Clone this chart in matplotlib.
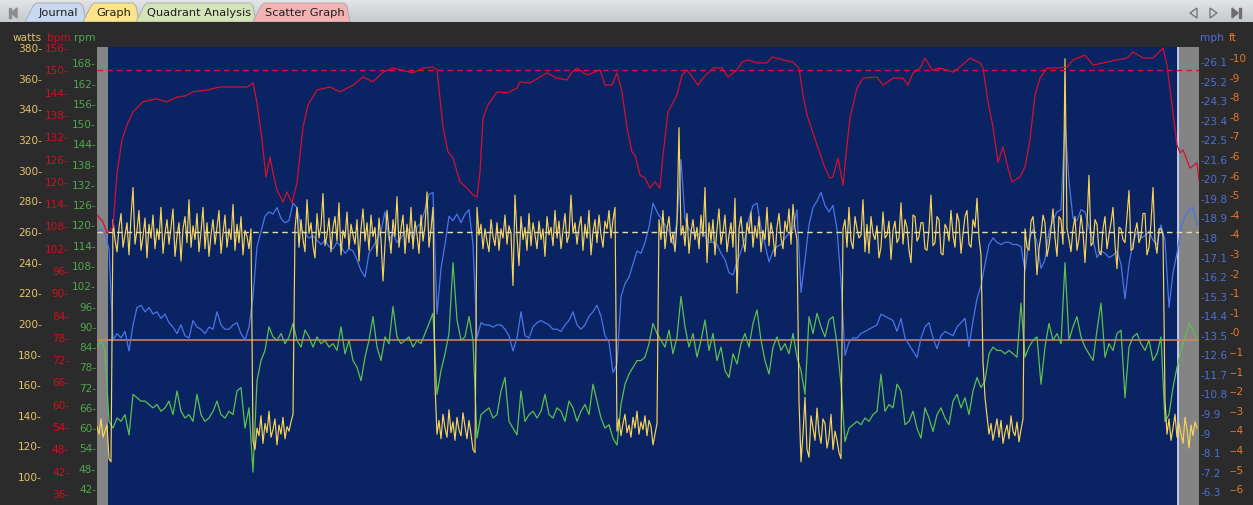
import numpy as np
import matplotlib
matplotlib.use("Agg")
from matplotlib import pyplot
from matplotlib.patches import Polygon
from matplotlib.colors import LinearSegmentedColormap

pyplot.rcParams["font.family"] = "DejaVu Sans"

# power is logged every 2 s, cadence and speed every 4 s
POWER_STEP = 2
SAMPLE_STEP = 4

power_w = [
    133, 128, 138, 126, 130, 134, 112, 110,
    268, 255, 247, 263, 272, 250, 258, 266, 245, 270,
    289, 252, 261, 274, 248, 257, 269, 243, 265, 256,
    271, 249, 262, 255, 276, 246, 259, 268, 252, 263,
    275, 244, 257, 266, 241, 262, 270, 253, 281, 250,
    264, 255, 272, 247, 260, 276, 249, 266, 244, 258,
    268, 252, 263, 274, 246, 259, 271, 250, 262, 255,
    278, 248, 265, 253, 270, 245, 261, 257, 249, 262,
    124, 118, 132, 127, 140, 122, 135, 129, 143, 126, 131, 138, 121, 134, 128, 139, 125, 133,
    130, 136, 141,
    262, 276, 250, 268, 255, 247, 281, 259, 266, 251,
    243, 272, 256, 264, 285, 251, 258, 269, 247, 263,
    270, 254, 279, 245, 261, 256, 273, 249, 265, 258,
    252, 268, 241, 262, 275, 254, 266, 248, 271, 257,
    263, 244, 269, 255, 228, 252, 274, 259, 246, 268,
    257, 283, 250, 262, 271, 246, 265, 253, 276, 249,
    267, 258, 246, 271, 254, 264, 286, 250, 262, 276,
    160, 128, 137, 125, 141, 132, 126, 144, 129, 136, 124, 139, 131, 127, 142, 133, 125, 137,
    128, 118, 116,
    276, 258, 265, 249, 262, 254, 247, 268, 257, 251,
    266, 248, 262, 256, 271, 252, 264, 259, 225, 284,
    257, 238, 270, 255, 263, 248, 272, 251, 266, 258,
    249, 267, 255, 262, 244, 270, 258, 263, 251, 274,
    256, 267, 249, 261, 272, 253, 258, 284, 259, 266,
    252, 263, 270, 248, 265, 256, 274, 245, 260, 268,
    253, 271, 258, 250, 267, 262, 274, 256, 268, 276,
    130, 138, 127, 135, 141, 129, 134, 126, 139, 132, 143, 128, 136, 131, 140, 127, 137, 133,
    121, 128, 135,
    268, 255, 274, 249, 262, 270, 253, 259, 247, 266,
    328, 258, 264, 251, 272, 246, 260, 268, 255, 263,
    249, 271, 257, 289, 240, 266, 254, 268, 245, 262,
    275, 252, 260, 271, 247, 258, 266, 250, 282, 220,
    262, 270, 255, 247, 266, 259, 273, 250, 264, 256,
    270, 247, 261, 255, 276, 251, 266, 258, 244, 263,
    272, 256, 249, 267, 260, 275, 252, 278, 262, 255,
    150, 110, 128, 152, 118, 113, 140, 132, 124, 145, 129, 122, 138, 135, 119, 126, 141, 118,
    130, 124, 116, 112,
    262, 268, 250, 276, 254, 249, 270, 262, 256, 258,
    281, 247, 265, 246, 270, 259, 255, 264, 243, 250,
    273, 256, 258, 267, 242, 261, 267, 253, 256, 279,
    252, 268, 263, 248, 240, 271, 270, 254, 257, 266,
    266, 249, 248, 262, 284, 251, 253, 270, 268, 246,
    245, 265, 262, 254, 274, 258, 250, 272, 267, 246,
    259, 270, 274, 252, 250, 268, 263, 282, 256, 245,
    175, 152, 140, 128, 135, 124, 131, 138, 126, 137, 122, 129, 134, 125, 140, 130, 127, 136,
    123, 131, 138,
    262, 250, 248, 267, 270, 255, 232, 249, 258, 271,
    266, 244, 251, 262, 275, 256, 244, 270, 268, 252,
    373, 262, 255, 247, 262, 270, 248, 256, 271, 260,
    240, 265, 297, 251, 253, 268, 265, 247, 245, 262,
    270, 249, 258, 266, 276, 252, 236, 263, 262, 255,
    253, 270, 287, 248, 249, 260, 266, 253, 257, 272,
    272, 245, 250, 266, 289, 254, 246, 262, 262, 258,
    150, 128, 138, 124, 132, 141, 126, 135, 128, 122, 139, 131, 119, 134, 127, 136, 132,
]

cadence_rpm = [
    84, 86, 83, 62,
    60, 63, 62, 64, 58, 70, 69, 68, 68, 67, 66, 67, 65, 66, 68, 64, 71, 65, 63, 64, 62, 70,
    64, 62, 63, 65, 68, 64, 63, 65, 64, 71, 72, 60, 66,
    47, 74, 80, 83, 90, 87, 86, 88, 85, 87, 91,
    86, 84, 89, 87, 84, 87, 85, 86, 84, 85, 83, 90, 82, 86, 80, 78, 74, 81, 86, 93, 84, 80,
    87, 85, 96, 87, 85, 86, 87, 84, 86, 85, 88, 91, 94,
    70, 77, 82, 88, 109, 92, 86, 87, 93, 86,
    57, 64, 65, 66, 63, 64, 71, 75, 62, 60, 58, 71, 62, 64, 65, 63, 65, 70, 64, 63, 66, 65,
    62, 68, 66, 62, 65, 67, 64, 73, 68, 63, 60, 61, 57,
    55, 67, 73, 76, 78, 80, 80, 81, 85, 91, 88,
    86, 84, 89, 82, 87, 99, 90, 84, 88, 81, 86, 92, 83, 88, 80, 84, 77, 75, 82, 79, 85, 88,
    84, 91, 95, 86, 80, 76, 84, 87, 83, 85, 82, 88, 81,
    77, 70, 93, 88, 94, 90, 87, 92, 93, 85, 73,
    56, 60, 61, 62, 61, 63, 62, 64, 65, 76, 65, 67, 66, 73, 71, 61, 62, 65, 60, 57, 66, 63,
    59, 64, 66, 63, 61, 68, 70, 66, 69, 64, 71, 75, 72,
    74, 82, 84, 83, 83, 82, 83, 82, 81, 97,
    81, 84, 86, 87, 73, 84, 91, 86, 88, 85, 109, 86, 90, 93, 87, 84, 82, 80, 89, 97, 81, 85,
    83, 88, 89, 69, 84, 87, 88, 85, 83, 86, 80, 82, 87,
    62, 64, 72, 78, 83, 87, 91, 89, 86,
]

speed_mph = [
    18.3, 18.4, 18.2, 17.5,
    13.3, 13.6, 13.4, 13.7, 12.8, 14.0, 14.8, 14.9, 14.6, 14.8, 14.5, 14.6, 14.3, 14.5, 14.1,
    13.9, 13.6, 14.0, 13.5, 13.4, 14.2, 13.9, 13.8, 13.6, 13.9, 13.8, 14.6, 14.0, 13.8, 13.8,
    14.0, 14.1, 13.6, 13.3, 13.9,
    15.3, 17.6, 18.3, 19.0, 19.2, 19.1, 19.4, 18.9, 18.7, 18.8, 19.6,
    19.4, 18.4, 18.2, 18.0, 18.1, 17.9, 17.7, 17.9, 17.6, 17.5, 17.8, 17.6, 17.3, 17.5, 17.4,
    17.0, 16.5, 16.2, 17.3, 17.6, 17.9, 18.3, 19.2, 17.9, 18.2, 17.8, 18.0, 18.3, 18.4, 17.9,
    18.5, 18.7, 19.3, 20.0, 20.1,
    14.5, 16.6, 17.7, 19.0, 18.8, 19.1, 18.7, 19.1, 19.3, 17.7,
    13.4, 14.1, 14.0, 14.0, 13.9, 14.0, 14.0, 13.8, 13.5, 12.8, 13.4, 14.6, 13.5, 13.4, 13.9,
    14.1, 14.2, 14.1, 14.0, 13.8, 13.8, 13.7, 14.0, 14.2, 14.6, 14.0, 13.8, 14.0, 14.4, 14.6,
    14.9, 14.4, 13.5, 13.2, 11.8,
    12.2, 15.3, 15.9, 16.2, 16.8, 17.4, 17.3, 17.8, 18.5, 19.6, 19.2,
    18.9, 18.6, 18.3, 17.7, 18.8, 21.6, 18.9, 18.4, 18.2, 18.1, 18.3, 18.1, 17.8, 17.8, 17.7,
    17.3, 17.0, 16.4, 16.3, 16.9, 17.4, 18.0, 18.9, 19.5, 19.6, 18.5, 17.7, 16.9, 17.4, 17.6,
    17.7, 18.0, 18.2, 18.4, 19.3,
    15.5, 17.0, 18.6, 19.4, 19.7, 20.1, 19.5, 19.2, 19.5, 18.4, 16.0,
    12.6, 13.2, 13.4, 13.4, 13.6, 13.7, 13.8, 13.9, 14.0, 14.5, 14.4, 14.3, 14.2, 13.7, 14.3,
    13.4, 13.1, 12.8, 12.5, 13.4, 13.9, 14.1, 13.4, 12.9, 13.5, 13.7, 13.6, 13.5, 13.9, 14.1,
    14.3, 13.0, 14.2, 15.2, 15.8,
    16.8, 17.7, 18.0, 17.8, 17.7, 17.8, 17.8, 17.7, 17.7, 17.6,
    16.5, 17.9, 18.4, 17.8, 16.6, 17.0, 18.3, 18.8, 19.2, 19.3, 23.3, 20.6, 18.9, 18.8, 19.3,
    19.2, 18.5, 17.9, 17.1, 17.4, 17.3, 17.1, 17.2, 17.4, 16.8, 15.2, 16.8, 17.8, 18.3, 18.0,
    18.1, 18.3, 17.9, 17.7, 18.6,
    17.9, 14.8, 16.4, 17.3, 18.5, 19.0, 19.3, 19.4, 18.6,
]

# heart rate is logged irregularly
hr_time = [
    0, 6, 10, 16, 20, 25, 30, 36, 46, 53, 60, 70, 80, 88, 96, 110, 123, 136, 150, 156,
    160, 165, 169, 173, 176, 180, 186, 190, 195, 200, 206, 211, 220, 233, 243, 256, 266, 276, 286, 296,
    316, 326, 336, 340, 346, 351, 356, 363, 370, 376, 380, 383, 386, 391, 400, 410, 420, 423, 433, 443,
    450, 460, 470, 475, 480, 490, 500, 503, 508, 515, 520, 525, 530, 535, 538, 543, 548, 553, 558, 563,
    566, 571, 580, 585, 590, 601, 606, 616, 625, 631, 640, 645, 651, 660, 670, 675, 686, 696, 702, 706,
    710, 715, 720, 728, 733, 736, 741, 746, 750, 753, 760, 766, 780, 786, 796, 806, 811, 816, 823, 828,
    835, 843, 856, 863, 873, 883, 886, 891, 896, 901, 906, 911, 915, 923, 928, 933, 938, 943, 950, 960,
    970, 976, 988, 996, 1010, 1020, 1030, 1036, 1046, 1056, 1066, 1070, 1075, 1080, 1083, 1086, 1093,
    1100, 1102,
]
hr_bpm = [
    111.1, 109.2, 106.2, 107.8, 122.4, 131.3, 135.3, 138.8, 141.5, 142.0,
    142.3, 141.5, 142.8, 143.1, 144.2, 144.7, 145.5, 145.5, 145.5, 146.6,
    141.2, 131.3, 121.3, 126.7, 122.4, 117.8, 114.6, 117.3, 114.3, 119.7,
    134.7, 140.7, 144.7, 145.5, 144.2, 146.0, 148.2, 146.9, 149.5, 150.6,
    149.3, 150.6, 150.9, 150.1, 134.7, 128.0, 126.4, 120.0, 118.3, 116.5,
    115.9, 122.6, 137.2, 140.7, 144.2, 143.9, 145.2, 146.9, 146.6, 148.2,
    149.3, 147.9, 147.4, 149.5, 150.6, 148.7, 149.8, 150.1, 146.0, 146.0,
    149.3, 144.2, 134.5, 128.0, 127.2, 121.8, 121.0, 118.3, 120.0, 118.3,
    127.2, 138.8, 143.4, 148.7, 150.1, 146.0, 147.9, 150.6, 150.6, 148.2,
    150.1, 152.2, 152.8, 152.0, 152.0, 153.6, 152.8, 152.2, 150.6, 143.4,
    138.0, 133.9, 129.9, 123.7, 121.0, 121.3, 126.4, 119.1, 129.9, 137.2,
    145.2, 147.9, 148.2, 146.0, 147.9, 147.9, 146.0, 149.3, 150.6, 153.3,
    150.1, 150.6, 149.5, 150.9, 153.3, 152.0, 150.6, 141.5, 134.7, 125.3,
    129.4, 123.7, 120.0, 121.3, 124.0, 131.3, 143.4, 147.9, 150.6, 150.6,
    150.9, 152.8, 154.1, 151.4, 152.2, 152.8, 153.3, 154.9, 153.3, 153.3,
    156.0, 151.4, 140.7, 129.9, 127.8, 128.6, 123.7, 125.1, 120.5,
]

altitude_ft = 0.25
hr_limit_bpm = 150
ftp_w = 260

ride_length = 1102
excluded = [(0, 11), (1081, ride_length)]
selection_end = 1080.5

tab_names = ["Journal", "Graph", "Quadrant Analysis", "Scatter Graph"]

# scale settings
watts_range = (81.8, 380.65)
bpm_range = (33.04, 156.27)
rpm_range = (37.24, 172.83)
mph_range = (5.71, 26.79)
ft_range = (-5.70, 10.78)
watts_ticks = list(range(100, 381, 20))
bpm_ticks = list(range(36, 157, 6))
rpm_ticks = list(range(42, 169, 6))
mph_ticks = np.round(np.arange(6.3, 26.15, 0.9), 1)
ft_ticks = 10.38 - 0.705 * np.arange(23)

COL_WATTS = "#e3c46a"
COL_BPM = "#cc1020"
COL_RPM = "#4fa84f"
COL_MPH = "#4d6fd6"
COL_FT = "#e8782c"

W, H = 1253, 505


def tab_bar(fig):
    """light grey tab strip on top of the screen"""
    bar = fig.add_axes([0, 1 - 22 / H, 1, 22 / H])
    bar.set_xlim(0, W)
    bar.set_ylim(22, 0)
    bar.axis("off")
    grad = LinearSegmentedColormap.from_list("bar", ["#e2e4e6", "#c6c9cd"])
    bar.imshow(np.linspace(0, 1, 22).reshape(-1, 1), extent=(0, W, 22, 0),
               cmap=grad, aspect="auto")

    tabs = [(25, 86, "#c8d8f0"), (83, 139, "#fbe48a"),
            (136, 256, "#d3e5b8"), (253, 350, "#f4b3b3")]
    for (x0, x1, colour), name in zip(tabs, tab_names):
        shape = [(x0, 22), (x0 + 8, 6), (x0 + 11, 3), (x1 - 6, 3),
                 (x1 - 3, 6), (x1, 22)]
        bar.add_patch(Polygon(shape, closed=True, facecolor=colour,
                              edgecolor="#a5a8ac", lw=0.6))
        bar.text((x0 + x1) / 2 + 3, 13, name, ha="center", va="center",
                 fontsize=8.2, color="#1e1e1e")

    # navigation arrows
    bar.add_patch(Polygon([(9, 8), (10.5, 8), (10.5, 18), (9, 18)], color="#8c8c8c"))
    bar.add_patch(Polygon([(17, 8), (17, 18), (11, 13)], color="#8c8c8c"))
    bar.add_patch(Polygon([(1197, 8), (1197, 18), (1190, 13)], closed=True,
                          fill=False, edgecolor="#6e6e6e", lw=0.9))
    bar.add_patch(Polygon([(1210, 8), (1210, 18), (1217, 13)], closed=True,
                          fill=False, edgecolor="#6e6e6e", lw=0.9))
    bar.add_patch(Polygon([(1232, 8), (1232, 18), (1238, 13)], color="#6e6e6e"))
    bar.add_patch(Polygon([(1239, 8), (1240.5, 8), (1240.5, 18), (1239, 18)], color="#6e6e6e"))


def overlay(ax, yrange):
    """extra y scale drawn over the same plotting area"""
    other = ax.twinx()
    other.set_ylim(*yrange)
    other.set_xlim(0, ride_length)
    for side in other.spines.values():
        side.set_visible(False)
    other.set_yticks([])
    return other


def side_ticks(axis, ticks, labels, colour, pad, left):
    if left:
        axis.yaxis.tick_left()
    else:
        axis.yaxis.tick_right()
    axis.set_yticks(ticks)
    axis.set_yticklabels(labels)
    axis.tick_params(axis="y", length=0, pad=pad, labelsize=7.6, labelcolor=colour)


fig = pyplot.figure(figsize=(W / 100, H / 100), dpi=100)
fig.patch.set_facecolor("#2b2b2b")
tab_bar(fig)

ax = fig.add_axes([97 / W, 0, 1102 / W, 458 / H])
ax.set_facecolor("#0a2463")
ax.set_xlim(0, ride_length)
ax.set_ylim(*watts_range)
for side in ax.spines.values():
    side.set_visible(False)
ax.set_xticks([])
for start, end in excluded:
    ax.axvspan(start, end, color="#848484", lw=0)
ax.axvline(selection_end, color="#c9d2f7", lw=1.3)
side_ticks(ax, watts_ticks, [f"{v}-" for v in watts_ticks], COL_WATTS, 39.6, True)

t_power = np.arange(len(power_w)) * POWER_STEP
t = np.arange(len(cadence_rpm)) * SAMPLE_STEP

ax_ft = overlay(ax, ft_range)
ax_ft.axhline(altitude_ft, color="#df825c", lw=1.1)
side_ticks(ax_ft, ft_ticks, [f"-{int(np.floor(v))}" for v in ft_ticks], COL_FT, 21.6, False)

ax_rpm = overlay(ax, rpm_range)
ax_rpm.plot(t, cadence_rpm, color="#5cbf50", lw=0.9)
side_ticks(ax_rpm, rpm_ticks, [f"{v}-" for v in rpm_ticks], COL_RPM, 0.7, True)

ax_mph = overlay(ax, mph_range)
ax_mph.plot(t, speed_mph, color="#4a74e8", lw=0.9)
side_ticks(ax_mph, mph_ticks, [f"-{v:g}" for v in mph_ticks], COL_MPH, 1.4, False)

ax_w = overlay(ax, watts_range)
ax_w.plot(t_power, power_w, color="#f7d35a", lw=0.85)
ax_w.axhline(ftp_w, color="#e6dca6", lw=1.0, dashes=(4, 3))

ax_bpm = overlay(ax, bpm_range)
ax_bpm.plot(hr_time, hr_bpm, color="#d4102c", lw=0.9)
ax_bpm.axhline(hr_limit_bpm, color="#e0102a", lw=1.0, dashes=(4, 3))
side_ticks(ax_bpm, bpm_ticks, [f"{v}-" for v in bpm_ticks], COL_BPM, 20.2, True)

# unit captions above the scales
for x, text, colour in [(27, "watts", COL_WATTS), (59, "bpm", COL_BPM), (85, "rpm", COL_RPM),
                        (1212, "mph", COL_MPH), (1233, "ft", COL_FT)]:
    fig.text(x / W, 1 - 38 / H, text, color=colour, fontsize=7.6, ha="center", va="center")

fig.savefig("out.png", dpi=100, facecolor=fig.get_facecolor())
